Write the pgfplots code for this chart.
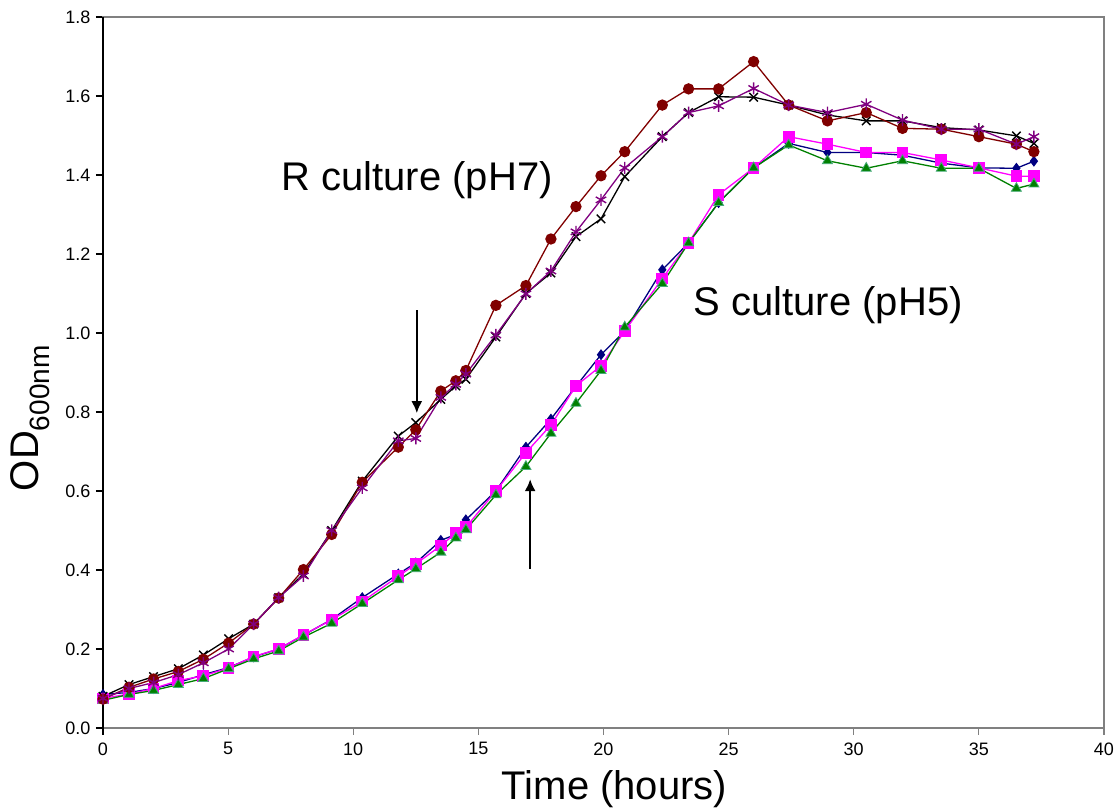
\documentclass[border=0pt]{standalone}
\usepackage{fontspec}
\setmainfont{Liberation Sans}
\usepackage{pgfplots}
\usepackage{pgfplotstable}
\pgfplotsset{compat=1.18}
\usetikzlibrary{arrows.meta}

\definecolor{rdark}{RGB}{128,0,0}
\definecolor{rpurp}{RGB}{128,0,128}
\definecolor{snavy}{RGB}{0,0,128}
\definecolor{spink}{RGB}{255,0,255}
\definecolor{sgreen}{RGB}{0,128,0}
\definecolor{sgedge}{RGB}{70,170,120}
\definecolor{frame}{RGB}{128,128,128}

% R culture (pH7)
\pgfplotstableread{
t     blk    red    pur
0     0.080  0.073  0.075
1.04  0.110  0.103  0.100
2.02  0.130  0.124  0.115
3.01  0.150  0.143  0.135
4.01  0.185  0.174  0.165
5.02  0.226  0.215  0.200
6.02  0.263  0.263  0.263
7.02  0.330  0.329  0.330
8.01  0.390  0.401  0.385
9.14  0.500  0.490  0.500
10.36 0.625  0.622  0.608
11.8  0.739  0.711  0.727
12.5  0.773  0.755  0.733
13.5  0.832  0.853  0.837
14.1  0.866  0.879  0.870
14.5  0.883  0.905  0.896
15.7  0.990  1.070  0.995
16.9  1.100  1.120  1.099
17.9  1.152  1.238  1.157
18.9  1.244  1.320  1.256
19.9  1.289  1.398  1.337
20.85 1.396  1.459  1.418
22.35 1.497  1.577  1.497
23.4  1.558  1.618  1.558
24.6  1.598  1.618  1.575
26.0  1.597  1.687  1.619
27.4  1.577  1.577  1.577
28.95 1.552  1.537  1.558
30.5  1.537  1.558  1.579
31.95 1.537  1.518  1.539
33.5  1.520  1.516  1.516
35.0  1.514  1.497  1.516
36.5  1.499  1.478  1.478
37.2  1.480  1.459  1.497
}\Rdata

% S culture (pH5)
\pgfplotstableread{
t     blu    pnk    grn
0     0.085  0.075  0.070
1.04  0.090  0.086  0.085
2.02  0.100  0.100  0.095
3.01  0.115  0.120  0.110
4.01  0.135  0.132  0.125
5.02  0.153  0.152  0.150
6.02  0.180  0.181  0.175
7.02  0.200  0.200  0.195
8.01  0.235  0.236  0.230
9.14  0.275  0.274  0.265
10.36 0.330  0.320  0.315
11.8  0.390  0.384  0.375
12.5  0.418  0.415  0.403
13.5  0.475  0.462  0.445
14.1  0.490  0.493  0.481
14.5  0.527  0.508  0.502
15.7  0.600  0.600  0.590
16.9  0.711  0.697  0.662
17.9  0.782  0.767  0.746
18.9  0.865  0.866  0.822
19.9  0.945  0.917  0.905
20.85 1.005  1.005  1.015
22.35 1.160  1.138  1.125
23.4  1.228  1.228  1.228
24.6  1.330  1.350  1.330
26.0  1.418  1.418  1.418
27.4  1.480  1.497  1.476
28.95 1.457  1.478  1.436
30.5  1.457  1.457  1.417
31.95 1.450  1.457  1.436
33.5  1.430  1.438  1.417
35.0  1.418  1.418  1.417
36.5  1.417  1.397  1.366
37.2  1.435  1.397  1.377
}\Sdata

\begin{document}
\begin{tikzpicture}
\path[use as bounding box] (0,0) rectangle (1120pt,811pt);
\begin{axis}[
    at={(103pt,83pt)}, anchor=south west,
    scale only axis, width=1001pt, height=711pt,
    xmin=0, xmax=40, ymin=0, ymax=1.8,
    xtick={0,5,...,40},
    ytick={0,0.2,0.4,0.6,0.8,1.0,1.2,1.4,1.6,1.8},
    tick pos=left, tick align=outside, major tick length=7pt,
    axis line style={frame, line width=1.2pt},
    x tick style={frame, line width=1.2pt},
    y tick style={black, line width=1.2pt},
    /pgf/number format/assume math mode=true,
    ticklabel style={font=\fontsize{18}{21}\selectfont},
    xticklabel style={yshift=-4pt},
    yticklabel style={xshift=-2pt, /pgf/number format/.cd, fixed, fixed zerofill, precision=1, /tikz/.cd},
    xlabel={Time (hours)},
    xlabel style={font=\fontsize{40}{48}\selectfont, inner sep=0pt,
        at={(axis description cs:0.511,-0.0591)}, anchor=north},
    ylabel={OD\textsubscript{600nm}},
    ylabel style={font=\fontsize{40}{48}\selectfont, inner sep=0pt,
        at={(axis description cs:-0.0929,0.436)}, anchor=north},
    clip=false,
]
\draw[black, line width=1.2pt] (rel axis cs:0,0) ++(0,-7pt) -- (rel axis cs:0,1);

\addplot[snavy, line width=1.3pt, mark=diamond*, mark size=4.5pt, mark options={fill=snavy}] table[x=t, y=blu] {\Sdata};
\addplot[spink, line width=1.3pt, mark=square*, mark size=5.2pt, mark options={fill=spink}] table[x=t, y=pnk] {\Sdata};
\addplot[sgreen, line width=1.3pt, mark=triangle*, mark size=5.8pt, mark options={fill=sgreen, draw=sgedge, line width=0.8pt}] table[x=t, y=grn] {\Sdata};

\addplot[black, line width=1.3pt, mark=x, mark size=6pt, mark options={line width=1.4pt}] table[x=t, y=blk] {\Rdata};
\addplot[rdark, line width=1.3pt, mark=*, mark size=5pt, mark options={fill=rdark}] table[x=t, y=red] {\Rdata};
\addplot[rpurp, line width=1.3pt, mark=asterisk, mark size=6pt, mark options={line width=1.4pt}] table[x=t, y=pur] {\Rdata};

\node[font=\fontsize{40}{48}\selectfont] at (axis cs:12.55,1.387) {R culture (pH7)};
\node[font=\fontsize{40}{48}\selectfont] at (axis cs:28.98,1.071) {S culture (pH5)};

\draw[-{Latex[length=12pt,width=11pt]}, line width=2pt] (axis cs:12.54,1.058) -- (axis cs:12.54,0.797);
\draw[-{Latex[length=12pt,width=11pt]}, line width=2pt] (axis cs:17.07,0.403) -- (axis cs:17.07,0.630);
\end{axis}
\end{tikzpicture}
\end{document}
